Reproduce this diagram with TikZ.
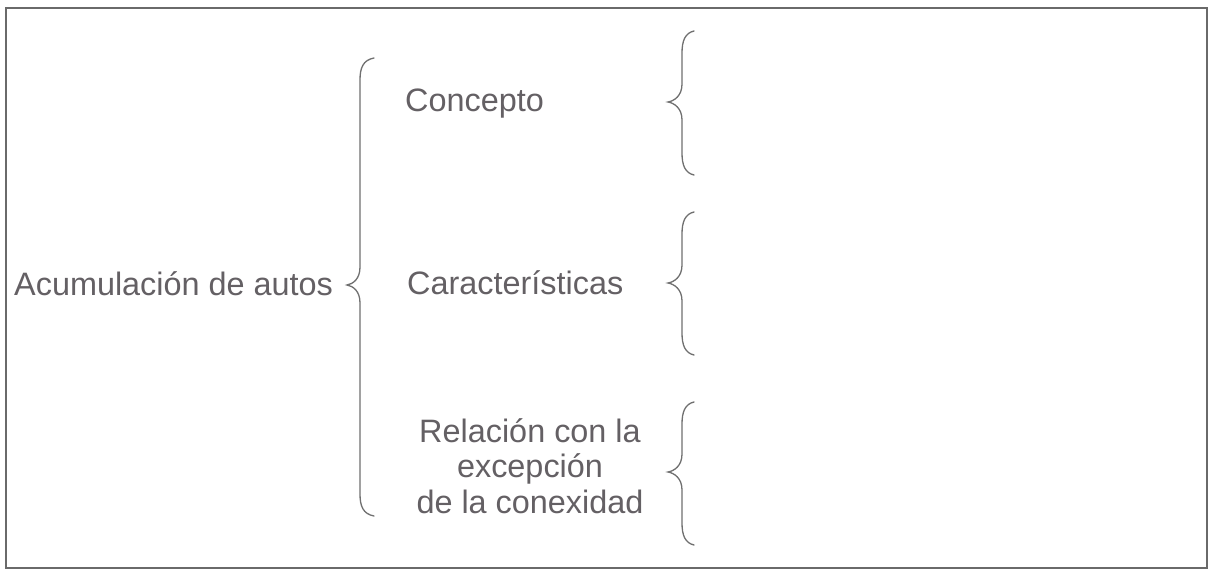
\documentclass[tikz,border=0pt]{standalone}
\usepackage{fontspec}
\setmainfont{Liberation Sans}
\definecolor{txtgray}{HTML}{646064}
\definecolor{brgray}{HTML}{707070}
\definecolor{framegray}{HTML}{6A6A6A}
\newcommand{\curlybr}[6]{% xend, xvert, xtip, ytop, ytip, ybot
  \draw[bracestyle] (#1,#4) .. controls (#2+3,#4+2) and (#2,#4+10) .. (#2,#4+22)
    -- (#2,#5-18) .. controls (#2,#5-6) and (#3+6,#5-1) .. (#3,#5)
    .. controls (#3+6,#5+1) and (#2,#5+6) .. (#2,#5+18)
    -- (#2,#6-22) .. controls (#2,#6-10) and (#2+3,#6-2) .. (#1,#6);}
\begin{document}
\begin{tikzpicture}[x=1pt,y=-1pt,
  bracestyle/.style={draw=brgray,line width=1.3pt,line cap=round},
  lbl/.style={text=txtgray,inner sep=0pt,font=\fontsize{32.4}{35.5}\selectfont},
  frame/.style={draw=framegray,line width=1.4pt}]
\useasboundingbox (0,0) rectangle (1209,570);
\fill[white] (0,0) rectangle (1209,570);
\draw[frame] (6,8) rectangle (1207,568);
% texts
\node[lbl,anchor=base west] (root) at (14,295) {Acumulación de autos};
\node[lbl,anchor=base west] (concepto) at (405,111) {Concepto};
\node[lbl,anchor=base west] (caract) at (407,294) {Características};
\node[lbl,anchor=north,align=center] (relacion) at (530,418) {Relación con la\\excepción\\de la conexidad};
% braces
\curlybr{374}{360}{347}{58}{285}{516}
\curlybr{694}{682}{668}{31}{102}{175}
\curlybr{694}{682}{668}{212}{283}{355}
\curlybr{694}{682}{668}{402}{472}{545}
\end{tikzpicture}
\end{document}
